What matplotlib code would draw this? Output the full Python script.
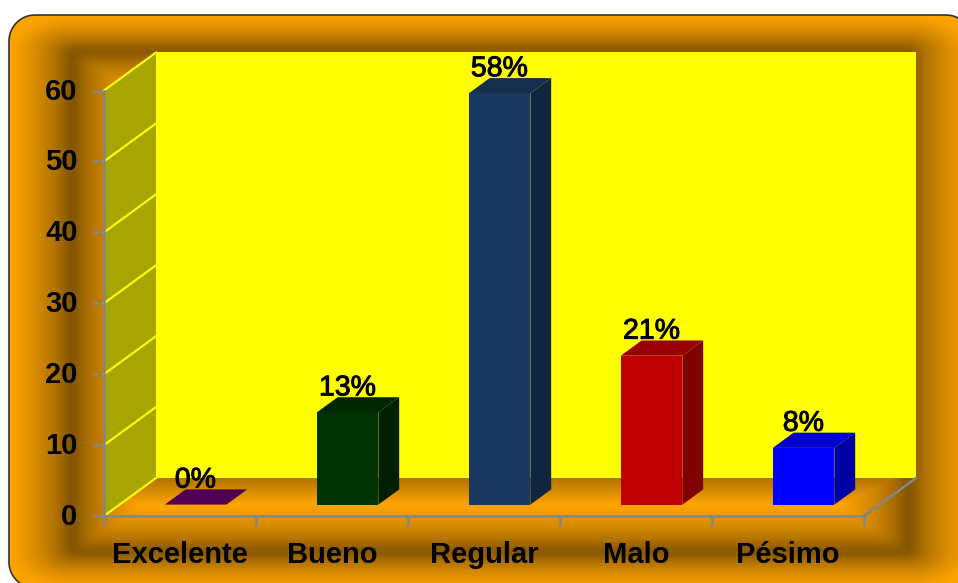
import numpy as np
import matplotlib
matplotlib.use('Agg')
import matplotlib.pyplot as plt
import matplotlib.patheffects as pe
from matplotlib.patches import Polygon
from matplotlib.transforms import ScaledTranslation

plt.rcParams['font.family'] = ['Liberation Sans', 'DejaVu Sans']

categories = ['Excelente', 'Bueno', 'Regular', 'Malo', 'Pésimo']
values = [0, 13, 58, 21, 8]
value_labels = ['0%', '13%', '58%', '21%', '8%']
y_ticks = [0, 10, 20, 30, 40, 50, 60]

front_colors = ['#500050', '#003300', '#1A3A63', '#C00000', '#0000FF']
top_colors = ['#500050', '#002800', '#15304F', '#990000', '#0000CC']
side_colors = ['#500050', '#001F00', '#10253F', '#800000', '#0000A6']

W, H = 958, 583
GREY = '#868686'

fig = plt.figure(figsize=(W / 100, H / 100), dpi=100, facecolor='white')

# background: orange frame with the dark soft band running round it
bg = fig.add_axes([0, 0, 1, 1])
bg.set_xlim(0, W)
bg.set_ylim(H, 0)
bg.axis('off')

x0, x1, y0, y1 = 9, 972, 15, 588
xx, yy = np.meshgrid(np.arange(W) + 0.5, np.arange(H) + 0.5)
dx = np.minimum(xx - x0, x1 - xx) / 63
dy = np.minimum(yy - y0, y1 - yy) / 36
a = np.clip(1 - dx, 0, None)
b = np.clip(1 - dy, 0, None)
outer = np.clip(np.sqrt(a ** 2 + b ** 2), 0, 1)
inner = np.clip(np.minimum((dx - 1) * 63 / 70, (dy - 1) * 36 / 46), 0, 1)
m = np.where((dx >= 1) & (dy >= 1), inner, outer) ** 0.6

# soften the ridge of the band
kernel = np.hanning(23)
kernel = kernel / kernel.sum()
pad = 12
m = np.pad(m, pad, mode='edge')
m = np.apply_along_axis(lambda row: np.convolve(row, kernel, mode='same'), 1, m)
m = np.apply_along_axis(lambda col: np.convolve(col, kernel, mode='same'), 0, m)
m = m[pad:-pad, pad:-pad]

# floor gets darker towards the back wall, fading out at its right end
floor = np.clip((yy - 478) / 27, 0, 1) * 0.55 + 0.45
fade = np.clip((xx - 885) / 32, 0, 1)
floor = floor + fade * (1 - floor)
m = np.where((yy >= 478) & (yy <= 520) & (xx >= 104), np.minimum(m, floor), m)

orange = np.array([255, 165, 0]) / 255
dark = np.array([112, 72, 0]) / 255
img = dark + (orange - dark) * m[..., None]
im = bg.imshow(img, extent=(0, W, H, 0), interpolation='bilinear', aspect='auto', zorder=1)

# rounded outline, corners built by hand since the box runs off the canvas
r = 26
angles = np.linspace(0, np.pi / 2, 16)
corners = [(x1 - r, y1 - r, 0), (x0 + r, y1 - r, np.pi / 2), (x0 + r, y0 + r, np.pi), (x1 - r, y0 + r, 1.5 * np.pi)]
outline = []
for cx, cy, start in corners:
    outline += [(cx + r * np.cos(start + t), cy + r * np.sin(start + t)) for t in angles]
frame = Polygon(outline, closed=True, fc='none', ec='#333333', lw=1.2, zorder=2, transform=bg.transData)
bg.add_patch(frame)
im.set_clip_path(frame)

# chart axes sit on the front plane of the 3d box
ax = fig.add_axes([104 / W, 1 - 516 / H, 760 / W, 425.5 / H])
ax.patch.set_visible(False)
ax.set_xlim(0, 5)
ax.set_ylim(0, 60)

depth_x = 52 / 152
depth_y = 38 / (425.5 / 60)


def proj(x, y, z):
    return x + z * depth_x, y + z * depth_y


def face(points, color, zorder):
    xs, ys = zip(*[proj(*p) for p in points])
    ax.fill(xs, ys, color=color, lw=0, clip_on=False, zorder=zorder)


# walls
face([(0, 0, 1), (5, 0, 1), (5, 60, 1), (0, 60, 1)], '#FFFF00', 1)
face([(0, 0, 0), (0, 0, 1), (0, 60, 1), (0, 60, 0)], '#A8A400', 1.5)
for t in y_ticks:
    xs, ys = zip(proj(0, t, 0), proj(0, t, 1))
    ax.plot(xs, ys, color='#FFFF00', lw=1.5, clip_on=False, zorder=1.6)

# floor right edge
xs, ys = zip(proj(5, 0, 0), proj(5, 0, 1))
ax.plot(xs, ys, color=GREY, lw=1.8, clip_on=False, zorder=1.6)

# bars
bar_w = 0.405
z_front = 0.30
z_back = 0.70
for i, v in enumerate(values):
    left = i + 0.5 - bar_w / 2
    right = left + bar_w
    bx, by = proj(left, 0, z_front)
    if v > 0:
        ax.bar(bx, v, bar_w, bottom=by, align='edge', color=front_colors[i], lw=0,
               clip_on=False, zorder=3)
        face([(right, 0, z_front), (right, 0, z_back), (right, v, z_back), (right, v, z_front)],
             side_colors[i], 3)
    face([(left, v, z_front), (right, v, z_front), (right, v, z_back), (left, v, z_back)],
         top_colors[i], 3)
    lx, ly = proj(i + 0.5, v, z_back)
    txt = ax.annotate(value_labels[i], (lx - 21 / 152, ly), xytext=(0, -3), textcoords='offset points',
                      ha='center', va='bottom', fontsize=20.5, color='black', zorder=5,
                      annotation_clip=False)
    txt.set_path_effects([pe.withStroke(linewidth=0.7, foreground='black')])

# axes
for s in ['top', 'right']:
    ax.spines[s].set_visible(False)
for s in ['left', 'bottom']:
    ax.spines[s].set_color(GREY)
    ax.spines[s].set_linewidth(1.8)

ax.set_yticks(y_ticks)
ax.tick_params(axis='y', length=8, width=1.8, color=GREY, pad=11, labelsize=21, labelcolor='black')
nudge = ScaledTranslation(0, 2 / 100, fig.dpi_scale_trans)
for lab in ax.get_yticklabels():
    lab.set_fontweight('bold')
    lab.set_verticalalignment('center_baseline')
    lab.set_transform(lab.get_transform() + nudge)

ax.set_xticks(np.arange(6))
ax.set_xticklabels([])
ax.tick_params(axis='x', which='major', length=7, width=1.8, color=GREY)
ax.set_xticks(np.arange(5) + 0.5, minor=True)
ax.set_xticklabels(categories, minor=True, fontsize=21, fontweight='bold')
ax.tick_params(axis='x', which='minor', length=0, pad=18)

fig.savefig('out.png', dpi=100, facecolor='white')
